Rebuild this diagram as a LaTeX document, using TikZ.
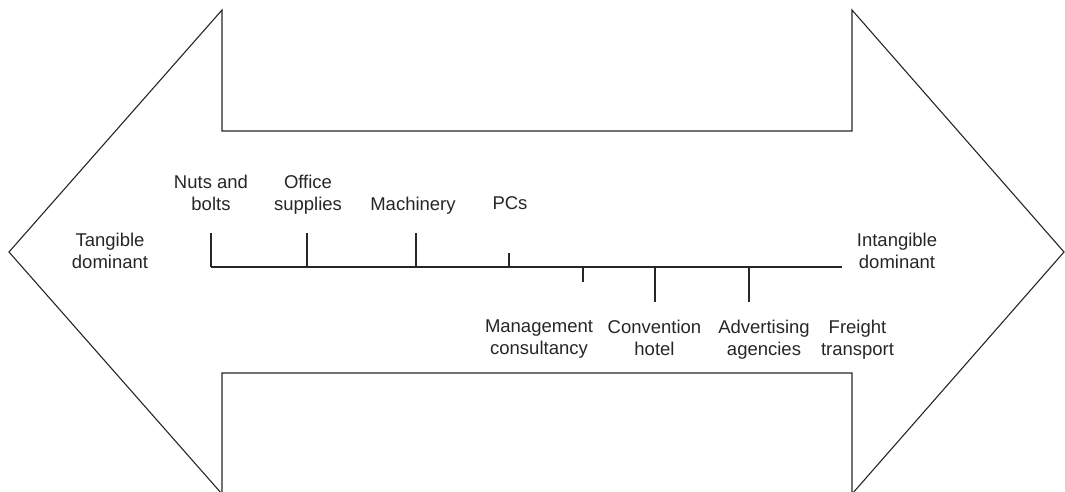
\documentclass[tikz,border=0pt]{standalone}
\usepackage{fontspec}
\setmainfont{Liberation Sans}
\begin{document}
\begin{tikzpicture}[x=1pt,y=-1pt,
  outline/.style={line width=1.1pt, draw=black!85, line join=miter},
  axisline/.style={line width=1.1pt, draw=black!85},
  lbl/.style={font=\fontsize{18.5}{22}\selectfont, align=center, inner sep=0pt, anchor=north, text=black!85}]
\useasboundingbox (0,0) rectangle (1065,491);
\begin{scope}
\clip (0,0) rectangle (1065,491);
\draw[outline] (222,10) -- (9,252) -- (222,494) -- (222,373) -- (852,373) -- (852,494)
  -- (1064,252) -- (852,10) -- (852,131) -- (222,131) -- cycle;
\end{scope}
% axis
\coordinate (a0) at (211,267);
\coordinate (a1) at (842,267);
\draw[axisline] (a0) -- (a1);
% tick ends
\coordinate (t1b) at (211,267); \coordinate (t1) at (211,233);
\coordinate (t2b) at (307,267); \coordinate (t2) at (307,233);
\coordinate (t3b) at (416,267); \coordinate (t3) at (416,233);
\coordinate (t4b) at (509,267); \coordinate (t4) at (509,253);
\coordinate (b1b) at (583,267); \coordinate (b1) at (583,282);
\coordinate (b2b) at (655,267); \coordinate (b2) at (655,302);
\coordinate (b3b) at (749,267); \coordinate (b3) at (749,302);
\foreach \a/\b in {t1b/t1,t2b/t2,t3b/t3,t4b/t4,b1b/b1,b2b/b2,b3b/b3}
  \draw[axisline] (\a) -- (\b);
% labels
\node[lbl] (tang) at (110,232.6) {Tangible\\dominant};
\node[lbl] (intang) at (897,232.6) {Intangible\\dominant};
\node[lbl] (nuts) at (211,174.6) {Nuts and\\bolts};
\node[lbl] (office) at (308,174.6) {Office\\supplies};
\node[lbl] (mach) at (413,196.6) {Machinery};
\node[lbl] (pcs) at (510,196.6) {PCs};
\node[lbl] (mgmt) at (539,319.6) {Management\\consultancy};
\node[lbl] (conv) at (654.5,319.6) {Convention\\hotel};
\node[lbl] (adv) at (764,319.6) {Advertising\\agencies};
\node[lbl] (freight) at (857.5,319.6) {Freight\\transport};
\end{tikzpicture}
\end{document}
